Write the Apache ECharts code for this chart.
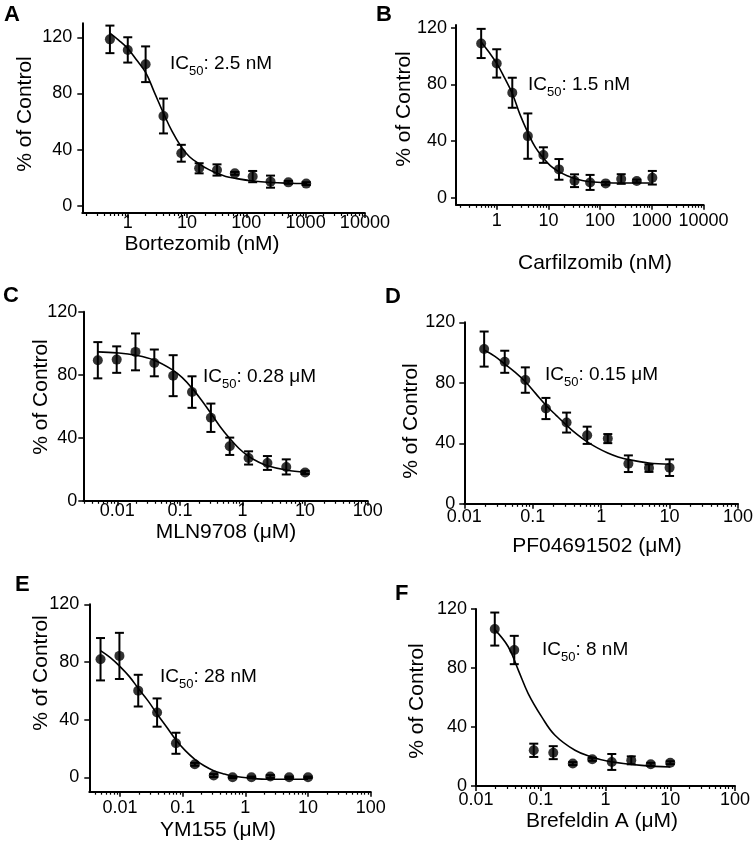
<!DOCTYPE html>
<html><head><meta charset="utf-8">
<script src="https://cdn.jsdelivr.net/npm/echarts@6/dist/echarts.min.js"></script>
<style>html,body{margin:0;padding:0;background:#fff}#c{width:755px;height:847px}</style>
</head><body><div id="c"></div>
<script>
// ---------- data ----------
const concNM   = [0.5, 1, 2, 4, 8, 16, 32, 64, 128, 256, 512, 1024];
const concUM12 = [0.00488, 0.00977, 0.0195, 0.039, 0.078, 0.156, 0.3125, 0.625, 1.25, 2.5, 5, 10];
const concUM10 = [0.0195, 0.039, 0.078, 0.156, 0.3125, 0.625, 1.25, 2.5, 5, 10];

const meanA = [118.5, 111, 100.8, 64, 37.5, 26.8, 25.6, 23.2, 20.9, 17.3, 16.8, 15.9];
const errA  = [9.8, 9, 12.7, 12.4, 6, 3.6, 4, 1, 4, 4.3, 1, 1];
const meanB = [108.9, 94.8, 74.1, 43.5, 30.1, 20, 12, 10.8, 10.1, 13.2, 11.8, 14.1];
const errB  = [10.3, 10, 10.6, 16, 5.5, 7.3, 4.5, 5.3, 1, 3.4, 1, 4.8];
const meanC = [89.2, 89.6, 94.5, 87.5, 79.4, 69, 52.7, 34.6, 27.2, 24, 21.5, 18];
const errC  = [11.5, 8.4, 11.7, 8.5, 13, 10, 9, 5.5, 4.2, 4.4, 4.8, 1];
const meanD = [102.3, 93.9, 81.8, 63, 53.7, 45.3, 43.1, 26.5, 23.6, 23.9];
const errD  = [11.6, 7.3, 8.4, 7, 6.6, 5.7, 3, 5.5, 2.5, 5.5];
const meanE = [81.9, 84.2, 60.1, 44.9, 23.6, 9, 1.2, 0, 0, 0.5, 0, 0];
const errE  = [14.7, 16, 11, 9.8, 7.3, 1, 1, 0.5, 0.5, 1, 0.5, 0.5];
const meanF = [106.4, 92.2, 24.2, 22.6, 15.2, 18.1, 16.3, 17.4, 14.7, 15.8];
const errF  = [11.2, 9.6, 4.5, 4.4, 1, 1, 5.4, 2.7, 1, 1];

// fitted curves
const curveNMX = [0.5, 0.7, 1, 1.4, 2, 2.8, 4, 5.6, 8, 11, 16, 23, 32, 45, 64, 128, 256, 512, 1024];
const curveAY  = [123, 118, 112, 104, 95, 81, 66, 53, 42, 35, 30, 26, 23.2, 21, 19.7, 17.8, 16.7, 16.2, 16];
const curveBY  = [110, 103, 94.8, 85, 73.6, 59, 46, 35.5, 28, 22.5, 18.4, 15.5, 13.6, 12.2, 11.3, 10.6, 10.4, 10.4, 10.4];
const curveCX  = [0.00488, 0.00977, 0.0195, 0.039, 0.078, 0.11, 0.156, 0.22, 0.3125, 0.44, 0.625, 0.88, 1.25, 1.77, 2.5, 5, 10];
const curveCY  = [94.5, 93.9, 92.4, 89.2, 82.8, 78, 71.5, 64, 55.5, 47, 39.5, 33.2, 28.2, 24.8, 22.3, 19.5, 18];
const curveDX  = [0.0195, 0.028, 0.039, 0.055, 0.078, 0.11, 0.156, 0.22, 0.3125, 0.44, 0.625, 0.88, 1.25, 1.77, 2.5, 5, 10];
const curveDY  = [101.7, 97.5, 92.4, 87, 80.7, 73, 65.2, 58.5, 51.9, 46, 40.9, 37, 33.6, 31, 29.2, 27, 26.1];
const curveEX  = [0.00488, 0.007, 0.00977, 0.014, 0.0195, 0.028, 0.039, 0.055, 0.078, 0.11, 0.156, 0.22, 0.3125, 0.44, 0.625, 1.25, 2.5, 5, 10];
const curveEY  = [87.9, 83, 77.2, 70, 61.7, 53, 43.9, 35, 25.9, 18.5, 12.5, 8, 4.6, 2.5, 0.9, -0.7, -1.4, -1.4, -1.4];
const curveFX  = [0.0195, 0.0315, 0.045, 0.064, 0.1035, 0.166, 0.338, 0.612, 1.1, 3.6, 10];
const curveFY  = [106, 94.4, 78.6, 62.7, 46.9, 34.4, 24.2, 19.7, 16.8, 14, 12.9];

const ticksNM = [1, 10, 100, 1000, 10000];
const ticksUM = [0.01, 0.1, 1, 10, 100];
const ticksY  = [0, 40, 80, 120];

const letters = ['A', 'B', 'C', 'D', 'E', 'F'];
const xNames  = ['Bortezomib (nM)', 'Carfilzomib (nM)', 'MLN9708 (\u03BCM)', 'PF04691502 (\u03BCM)', 'YM155 (\u03BCM)', 'Brefeldin A (\u03BCM)'];
const yName   = '% of Control';
const icValues = [': 2.5 nM', ': 1.5 nM', ': 0.28 \u03BCM', ': 0.15 \u03BCM', ': 28 nM', ': 8 nM'];

// ---------- layout ----------
const layout = [
  {left: 82.3, top: 23.2, width: 282.6, height: 189.8, xMin: 0.171, xMax: 10000, yMin: -5, yMax: 130, xm: 1, ym: 10,
   letter: [4, 15], yn: [25, 114], xn: [202, 244], ic: [170, 64]},
  {left: 456, top: 24.9, width: 247.5, height: 179.9, xMin: 0.163, xMax: 10000, yMin: -5, yMax: 122, xm: 7, ym: 9,
   letter: [376, 15], yn: [404, 109], xn: [595, 263], ic: [528, 85]},
  {left: 83.3, top: 311.7, width: 284.4, height: 189.1, xMin: 0.00286, xMax: 100, yMin: 0, yMax: 120, xm: 1, ym: 6,
   letter: [3, 295.5], yn: [41, 397], xn: [226, 532], ic: [203, 377]},
  {left: 464.3, top: 322.3, width: 273.7, height: 181.5, xMin: 0.01, xMax: 100, yMin: 0, yMax: 120, xm: 4, ym: 9,
   letter: [385, 296.5], yn: [411, 421], xn: [597, 546], ic: [545, 375]},
  {left: 89.3, top: 604.3, width: 281.4, height: 187.4, xMin: 0.00323, xMax: 100, yMin: -10, yMax: 120, xm: 7, ym: 10,
   letter: [15, 585], yn: [41, 673], xn: [218, 830], ic: [160, 677]},
  {left: 476, top: 609, width: 259, height: 177, xMin: 0.01, xMax: 100, yMin: 0, yMax: 120, xm: 5, ym: 9,
   letter: [395, 593.5], yn: [417, 701], xn: [602, 821], ic: [542, 650]}
];

const panels = [
  {x: concNM, y: meanA, e: errA, cx: curveNMX, cy: curveAY, ticks: ticksNM},
  {x: concNM, y: meanB, e: errB, cx: curveNMX, cy: curveBY, ticks: ticksNM},
  {x: concUM12, y: meanC, e: errC, cx: curveCX, cy: curveCY, ticks: ticksUM},
  {x: concUM10, y: meanD, e: errD, cx: curveDX, cy: curveDY, ticks: ticksUM},
  {x: concUM12, y: meanE, e: errE, cx: curveEX, cy: curveEY, ticks: ticksUM},
  {x: concUM10, y: meanF, e: errF, cx: curveFX, cy: curveFY, ticks: ticksUM}
];

const FONT = '"Liberation Sans", Arial, Helvetica, sans-serif';

function minorTicks(min, max) {
  const out = [];
  for (let d = Math.floor(Math.log10(min)); d <= Math.ceil(Math.log10(max)); d++) {
    for (let k = 2; k <= 9; k++) {
      const v = Number((k * Math.pow(10, d)).toPrecision(6));
      if (v >= min && v <= max) out.push(v);
    }
  }
  return out;
}
function fmt(v) { return String(Number(Number(v).toPrecision(6))); }

const grid = [], xAxis = [], yAxis = [], series = [], graphic = [];

layout.forEach((l, i) => {
  const p = panels[i];
  grid.push({left: l.left, top: l.top, width: l.width, height: l.height, containLabel: false, outerBoundsMode: 'none'});
  xAxis.push({
    type: 'log', logBase: 10, gridIndex: i, min: l.xMin, max: l.xMax, position: 'bottom',
    axisLine: {show: true, onZero: false, lineStyle: {color: '#000', width: 2}},
    axisTick: {show: true, inside: false, length: 5, customValues: p.ticks, lineStyle: {color: '#000', width: 1.5}},
    minorTick: {show: false}, splitLine: {show: false}, minorSplitLine: {show: false},
    axisLabel: {show: true, customValues: p.ticks, formatter: fmt, margin: l.xm, fontSize: 18, color: '#000', fontFamily: FONT, hideOverlap: false}
  });
  xAxis.push({
    type: 'log', logBase: 10, gridIndex: i, min: l.xMin, max: l.xMax, position: 'bottom',
    axisLine: {show: false, onZero: false},
    axisTick: {show: true, inside: false, length: 3, customValues: minorTicks(l.xMin, l.xMax), lineStyle: {color: '#000', width: 1.2}},
    minorTick: {show: false}, splitLine: {show: false},
    axisLabel: {show: false}
  });
  yAxis.push({
    type: 'value', gridIndex: i, min: l.yMin, max: l.yMax,
    axisLine: {show: true, onZero: false, lineStyle: {color: '#000', width: 2}},
    axisTick: {show: true, inside: false, length: 5, customValues: ticksY, lineStyle: {color: '#000', width: 1.5}},
    splitLine: {show: false},
    axisLabel: {show: true, customValues: ticksY, margin: l.ym, fontSize: 18, color: '#000', fontFamily: FONT}
  });

  // fitted curve
  series.push({
    type: 'line', xAxisIndex: 2 * i, yAxisIndex: i, showSymbol: false, smooth: 0.4, silent: true, z: 2,
    lineStyle: {color: '#000', width: 1.6},
    data: p.cx.map((x, k) => [x, p.cy[k]])
  });
  // error bars
  series.push({
    type: 'custom', xAxisIndex: 2 * i, yAxisIndex: i, silent: true, z: 3,
    encode: {x: 0, y: [1, 2]},
    data: p.x.map((x, k) => [x, p.y[k] - p.e[k], p.y[k] + p.e[k]]),
    renderItem: function (params, api) {
      const x = api.value(0);
      const lo = api.coord([x, api.value(1)]);
      const hi = api.coord([x, api.value(2)]);
      const w = 4.5, st = {stroke: '#000', lineWidth: 2};
      return {type: 'group', children: [
        {type: 'line', shape: {x1: lo[0], y1: lo[1], x2: hi[0], y2: hi[1]}, style: st},
        {type: 'line', shape: {x1: lo[0] - w, y1: lo[1], x2: lo[0] + w, y2: lo[1]}, style: st},
        {type: 'line', shape: {x1: hi[0] - w, y1: hi[1], x2: hi[0] + w, y2: hi[1]}, style: st}
      ]};
    }
  });
  // mean points
  series.push({
    type: 'scatter', xAxisIndex: 2 * i, yAxisIndex: i, symbol: 'circle', symbolSize: 10, silent: true, z: 4,
    itemStyle: {color: '#000'},
    data: p.x.map((x, k) => [x, p.y[k]])
  });

  // texts
  graphic.push({type: 'text', x: l.letter[0], y: l.letter[1],
    style: {text: letters[i], fontSize: 22, fontWeight: 'bold', fontFamily: FONT, fill: '#000',
      align: 'left', verticalAlign: 'middle', textAlign: 'left', textVerticalAlign: 'middle'}});
  graphic.push({type: 'text', x: l.yn[0], y: l.yn[1], rotation: Math.PI / 2,
    style: {text: yName, fontSize: 21, fontFamily: FONT, fill: '#000',
      align: 'center', verticalAlign: 'middle', textAlign: 'center', textVerticalAlign: 'middle'}});
  graphic.push({type: 'text', x: l.xn[0], y: l.xn[1],
    style: {text: xNames[i], fontSize: 21, fontFamily: FONT, fill: '#000',
      align: 'center', verticalAlign: 'middle', textAlign: 'center', textVerticalAlign: 'middle'}});
  graphic.push({type: 'text', x: l.ic[0], y: l.ic[1],
    style: {text: '{n|IC}{s|50}{n|' + icValues[i] + '}', fill: '#000', fontFamily: FONT,
      align: 'left', verticalAlign: 'middle', textAlign: 'left', textVerticalAlign: 'middle',
      rich: {
        n: {fontSize: 19, fontFamily: FONT, lineHeight: 28, verticalAlign: 'middle', fill: '#000'},
        s: {fontSize: 13, fontFamily: FONT, lineHeight: 13, verticalAlign: 'bottom', fill: '#000'}
      }}});
});

const chart = echarts.init(document.getElementById('c'), null, {renderer: 'canvas', width: 755, height: 847});
chart.setOption({
  animation: false,
  backgroundColor: '#fff',
  textStyle: {fontFamily: FONT},
  grid, xAxis, yAxis, series, graphic
});
</script>
</body></html>
